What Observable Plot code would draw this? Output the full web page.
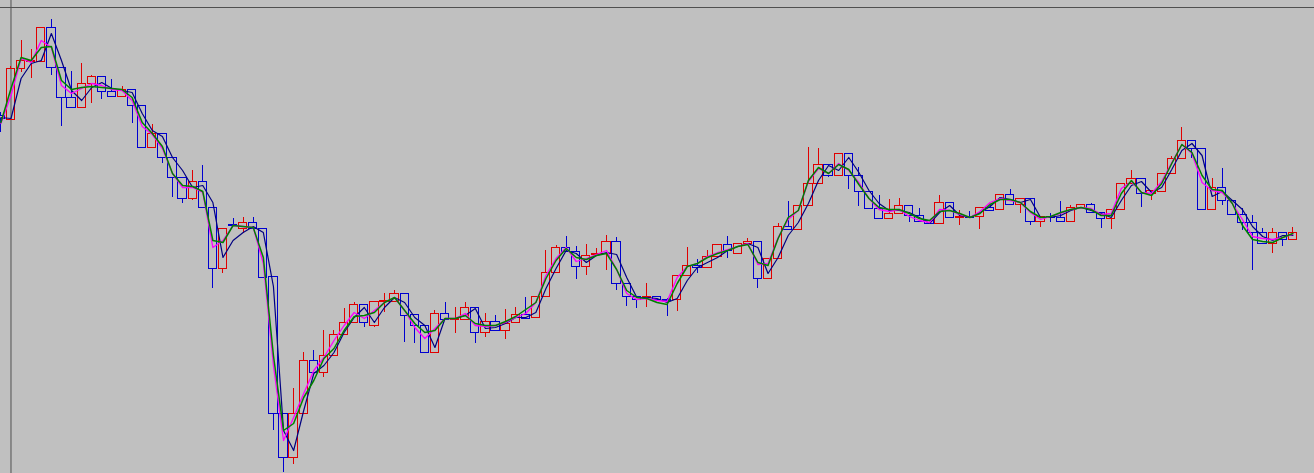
<!DOCTYPE html>
<html>
<head>
<meta charset="utf-8">
<script src="https://cdn.jsdelivr.net/npm/d3@7"></script>
<script src="https://cdn.jsdelivr.net/npm/@observablehq/plot@0.6"></script>
<style>
  html, body { margin: 0; padding: 0; background: #c0c0c0; overflow: hidden; }
</style>
</head>
<body>
<div id="chart"></div>
<script>
// OHLC prices (points), one per bar, oldest first
const open = [385,381,432,439,439,473,433,403,393,417,424,409,404,411,395,353,367,343,323,302,319,293,232,276,272,278,272,224,87,43,
  87,140,128,145,166,178,196,175,199,199,207,186,175,148,187,181,181,193,168,179,170,178,186,183,204,228,253,249,234,246,
  247,259,217,204,203,204,201,201,225,235,233,244,256,247,257,259,222,242,274,271,295,317,336,325,347,325,309,292,282,287,
  295,285,280,277,298,283,284,284,293,291,306,296,302,279,284,283,279,293,296,288,282,291,317,322,307,309,327,342,360,352,
  291,313,300,286,278,268,257,268,261];
const high = [388,434,460,451,473,481,433,429,437,425,424,421,414,411,395,376,367,343,323,330,335,293,272,282,283,283,272,224,87,112,
  148,150,170,170,192,198,196,199,207,210,207,186,175,190,198,193,198,193,187,185,191,193,203,204,250,255,264,254,256,252,
  265,263,217,204,217,204,202,225,253,241,250,256,264,257,262,259,242,277,299,295,353,352,336,347,347,333,309,305,301,302,
  295,292,280,305,298,290,289,293,295,306,311,302,302,284,287,299,295,296,297,288,291,317,330,322,310,327,344,373,360,352,
  322,332,300,292,285,272,272,268,273];
const low = [368,380,428,422,439,425,374,393,392,397,401,404,404,377,353,353,337,303,297,300,293,212,227,274,267,272,223,70,28,36,
  87,128,123,145,166,178,173,173,188,199,158,157,148,148,181,167,181,157,163,170,161,178,182,183,204,228,249,221,225,244,
  230,210,194,192,193,200,184,189,225,227,233,242,242,247,256,212,222,242,271,271,295,317,323,325,311,294,292,282,282,287,
  278,279,276,277,283,275,283,271,290,291,296,287,275,273,278,279,279,293,288,272,271,291,317,293,300,309,327,342,342,291,
  291,295,286,270,230,257,247,254,261];
const close = [382,432,440,440,473,433,403,393,417,424,409,404,411,395,353,367,343,323,302,319,293,232,272,275,278,272,223,87,43,87,
  140,128,145,166,178,196,178,199,200,207,185,175,148,187,181,182,193,168,179,170,177,186,182,204,228,253,249,234,245,247,
  259,217,204,201,204,201,200,225,235,233,244,256,250,257,259,222,242,274,271,295,317,336,325,347,325,309,292,282,287,295,
  285,279,277,298,283,284,283,293,290,306,296,302,279,284,283,279,293,296,288,282,291,317,322,307,310,327,342,360,352,291,
  313,300,286,278,268,257,268,261,268];

// moving averages read per bar: fast (magenta), medium (green), slow (navy)
const maFast = [377,405,442,438,460,453,415,407,412,417,415,411,410,400,374,366,352,327,313,313,308,253,260,275,274,273,237,135,60,83,
  107,130,143,160,175,188,182,190,198,203,190,173,162,172,182,182,187,175,174,175,178,183,187,198,225,242,253,239,242,246,
  250,231,207,201,202,200,199,223,234,237,244,248,251,254,257,236,237,263,281,290,319,332,327,337,330,318,302,291,289,291,
  284,280,278,291,290,286,283,289,298,302,300,298,288,281,284,287,291,293,292,286,287,312,319,308,307,319,338,356,347,318,
  310,308,297,281,264,262,261,263,266];
const maMid = [378,412,443,440,453,454,420,411,413,414,413,412,411,403,378,367,354,327,315,314,309,260,258,275,274,273,243,145,70,77,
  103,120,142,152,170,184,185,188,198,203,190,177,168,170,182,182,185,177,175,175,179,184,191,198,222,240,252,243,241,245,
  247,231,210,203,202,198,196,217,234,237,243,247,250,254,256,238,235,262,283,290,320,333,327,336,331,316,302,293,291,291,
  287,282,280,289,290,287,283,287,296,301,301,298,289,283,284,288,291,293,291,285,285,307,320,308,305,317,337,356,348,325,
  311,310,297,275,261,259,258,263,267];
const maSlow = [383,382,422,437,440,467,440,410,400,413,418,412,410,408,387,370,364,343,330,313,315,298,243,260,268,274,268,214,70,50,
  90,127,135,148,168,183,193,178,193,203,198,183,175,153,182,182,185,192,172,173,177,183,183,188,212,232,250,247,238,245,
  248,246,223,203,203,202,198,202,220,233,238,243,250,254,257,253,227,243,265,278,297,320,335,330,343,328,310,297,290,290,
  288,283,277,288,295,285,283,288,294,303,301,298,301,283,283,285,290,293,290,287,283,300,315,319,308,313,331,350,357,345,
  304,309,300,291,274,264,260,265,265];

const bars = open.map((o, i) => ({
  i,
  high: high[i],
  low: low[i],
  top: Math.max(o, close[i]),
  bottom: Math.min(o, close[i]),
  up: close[i] >= o
}));
const averages = maFast.map((v, i) => ({i, fast: v, mid: maMid[i], slow: maSlow[i]}));

const barColor = d => d.up ? "#e00000" : "#0000d0";

const chart = Plot.plot({
  width: 1314,
  height: 473,
  margin: 0,
  style: {background: "#c0c0c0", overflow: "hidden"},
  x: {domain: [-0.04, 130.14], axis: null},
  y: {domain: [27, 500], axis: null},
  marks: [
    // top border and crosshair
    Plot.ruleY([493], {stroke: "#505050"}),
    Plot.ruleX([1], {stroke: "#505050"}),
    // wicks, drawn outside the hollow bodies
    Plot.ruleX(bars, {x: "i", y1: "top", y2: "high", stroke: barColor, shapeRendering: "crispEdges"}),
    Plot.ruleX(bars, {x: "i", y1: "low", y2: "bottom", stroke: barColor, shapeRendering: "crispEdges"}),
    Plot.rect(bars, {
      x1: d => d.i - 0.41, x2: d => d.i + 0.41,
      y1: "bottom", y2: "top",
      fill: "none", stroke: barColor, shapeRendering: "crispEdges"
    }),
    Plot.line(averages, {x: "i", y: "slow", stroke: "#000080", strokeWidth: 1.2}),
    Plot.line(averages, {x: "i", y: "fast", stroke: "#ff00ff", strokeWidth: 1.3}),
    Plot.line(averages, {x: "i", y: "mid", stroke: "#008000", strokeWidth: 1.5})
  ]
});

document.getElementById("chart").append(chart);
</script>
</body>
</html>
